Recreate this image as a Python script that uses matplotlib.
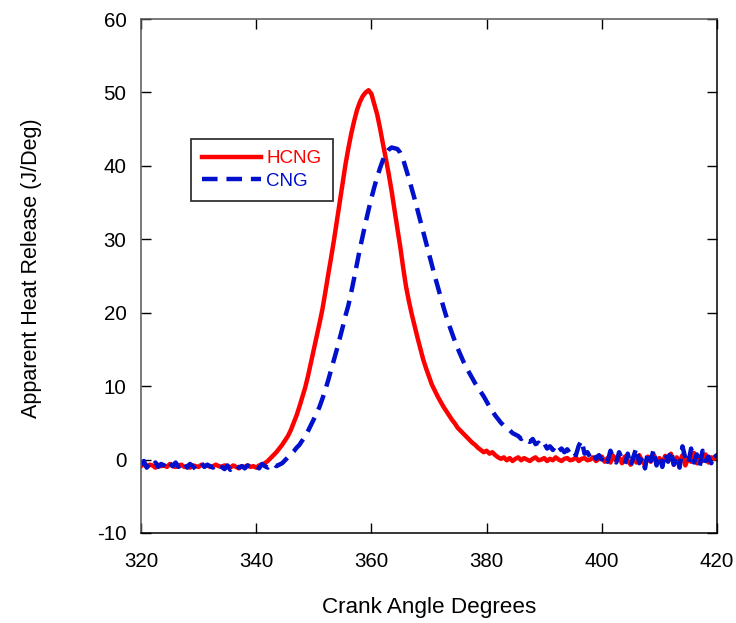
import numpy as np
import matplotlib
matplotlib.use('Agg')
import matplotlib.pyplot as plt

plt.rcParams['font.family'] = ['Liberation Sans', 'DejaVu Sans']
plt.rcParams['axes.unicode_minus'] = False

# crank angle grid (deg), 0.5 deg steps
angle = np.arange(320, 420.5, 0.5)

hcng = [
    -0.9, -0.6, -1.0, -0.7, -0.8, -1.1, -0.7, -0.9, -0.8, -1.0,   # 320-324.5
    -0.6, -0.9, -1.0, -0.8, -0.7, -1.0, -0.9, -1.1, -0.8, -0.9,   # 325-329.5
    -1.0, -0.7, -0.9, -0.8, -1.0, -0.9, -0.7, -0.9, -1.0, -0.8,   # 330-334.5
    -0.9, -1.1, -0.8, -1.0, -1.2, -0.9, -1.0, -0.8, -1.0, -0.9,   # 335-339.5
    -1.1, -0.8, -0.7, -0.5, -0.2, 0.2, 0.6, 1.0, 1.5, 2.0,        # 340-344.5
    2.6, 3.2, 4.0, 5.0, 6.0, 7.2, 8.5, 9.8, 11.4, 13.2,           # 345-349.5
    15.0, 16.8, 18.6, 20.5, 22.8, 25.2, 27.5, 29.9, 32.5, 35.0,   # 350-354.5
    37.7, 40.2, 42.4, 44.4, 46.1, 47.6, 48.7, 49.5, 50.0, 50.3,   # 355-359.5
    49.8, 48.4, 47.0, 45.1, 43.0, 41.0, 38.9, 36.6, 34.0, 31.5,   # 360-364.5
    29.0, 26.2, 23.6, 21.6, 19.8, 18.2, 16.6, 15.1, 13.6, 12.4,   # 365-369.5
    11.3, 10.2, 9.4, 8.6, 7.9, 7.2, 6.6, 6.0, 5.4, 4.9,           # 370-374.5
    4.3, 3.9, 3.5, 3.1, 2.7, 2.3, 2.0, 1.6, 1.3, 1.0,             # 375-379.5
    1.2, 0.8, 1.0, 0.6, 0.3, 0.1, 0.3, -0.1, 0.2, -0.2,           # 380-384.5
    0.1, 0.3, -0.1, 0.2, 0.0, -0.2, 0.1, 0.3, -0.1, 0.0,          # 385-389.5
    0.2, -0.2, 0.1, -0.1, 0.3, 0.0, -0.2, 0.1, 0.2, -0.1,         # 390-394.5
    0.0, 0.3, -0.2, 0.1, 0.2, -0.1, 0.0, 0.3, -0.2, 0.1,          # 395-399.5
    0.4, -0.3, 0.2, -0.4, 0.5, -0.2, 0.3, -0.5, 0.4, -0.1,        # 400-404.5
    -0.7, 0.3, -0.4, 0.6, -0.2, -0.8, 0.4, -0.3, 0.7, -0.5,       # 405-409.5
    0.2, -0.6, 0.5, -0.2, 0.8, -0.7, 0.3, -0.4, 0.6, -0.8,        # 410-414.5
    0.2, -0.3, 0.9, -0.5, 0.4, -0.2, 0.7, -0.4, 0.3, 0.1,         # 415-419.5
    0.4,                                                          # 420
]

cng = [
    -0.7, -0.2, -1.1, -0.5, -0.9, -0.4, -1.0, -0.6, -0.8, -1.2,   # 320-324.5
    -0.5, -0.9, -0.4, -1.0, -0.7, -0.3, -1.1, -0.6, -0.9, -1.3,   # 325-329.5
    -0.8, -0.5, -1.0, -0.7, -0.9, -1.1, -0.6, -0.9, -1.0, -1.3,   # 330-334.5
    -0.8, -1.4, -1.0, -0.7, -1.1, -0.9, -1.2, -0.8, -1.0, -0.7,   # 335-339.5
    -0.9, -1.2, -0.6, -0.9, -1.1, -0.8, -0.5, -0.9, -0.7, -0.5,   # 340-344.5
    -0.1, 0.3, 0.7, 1.1, 1.6, 2.0, 2.6, 3.2, 3.9, 4.7,            # 345-349.5
    5.5, 6.3, 7.2, 8.3, 9.5, 10.8, 12.2, 13.6, 15.0, 16.5,        # 350-354.5
    18.0, 19.6, 21.0, 22.8, 24.7, 26.7, 28.7, 30.5, 32.3, 34.0,   # 355-359.5
    35.6, 37.1, 38.5, 39.7, 40.8, 41.6, 42.2, 42.5, 42.4, 42.3,   # 360-364.5
    41.8, 40.9, 39.6, 38.3, 36.9, 35.5, 34.0, 32.5, 31.0, 29.5,   # 365-369.5
    28.0, 26.5, 25.0, 23.6, 22.2, 20.8, 19.5, 18.3, 17.2, 16.1,   # 370-374.5
    15.1, 14.2, 13.3, 12.5, 11.8, 11.1, 10.4, 9.8, 9.2, 8.6,      # 375-379.5
    7.9, 7.2, 6.6, 6.0, 5.5, 5.0, 4.6, 4.3, 4.0, 3.6,             # 380-384.5
    3.4, 3.2, 2.8, 3.1, 2.6, 2.4, 2.8, 2.1, 2.3, 1.8,             # 385-389.5
    2.2, 1.5, 1.8, 1.3, 1.9, 1.2, 1.5, 1.0, 1.4, 0.8,             # 390-394.5
    1.2, 0.6, 1.9, 2.6, 0.8, 1.0, 0.3, 0.9, 0.1, 0.6,             # 395-399.5
    0.0, 0.5, -0.3, 1.2, 0.2, -0.4, 1.0, 0.1, -0.6, 0.8,          # 400-404.5
    -0.9, 0.4, 1.6, -0.5, 0.3, -1.2, 1.1, -0.2, 1.4, -0.8,        # 405-409.5
    0.6, -1.0, 0.9, -0.3, 1.3, -0.7, 0.5, -1.1, 1.8, 0.2,         # 410-414.5
    -0.6, 1.5, -0.4, 0.7, -0.9, 1.2, -0.2, 0.4, -0.5, 0.8,        # 415-419.5
    0.3,                                                          # 420
]

series_names = ['HCNG', 'CNG']
series_colors = ['#ff0000', '#0010cc']

fig = plt.figure(figsize=(7.36, 6.23), dpi=100)
ax = fig.add_axes([0.1916, 0.1445, 0.7826, 0.8250])

ax.plot(angle, hcng, color=series_colors[0], lw=3.2, label=series_names[0])
ax.plot(angle, cng, color=series_colors[1], lw=3.2, label=series_names[1],
        linestyle=(0, (3.5, 2.0)))

ax.set_xlim(320, 420)
ax.set_ylim(-10, 60)
ax.set_xticks(np.arange(320, 421, 20))
ax.set_yticks(np.arange(-10, 61, 10))

ax.tick_params(direction='in', length=7.5, width=1.0, top=True, right=True,
               labelsize=14.8, colors='black')
ax.tick_params(axis='x', pad=14)
ax.tick_params(axis='y', pad=10.5)
for side, s in ax.spines.items():
    s.set_linewidth(1.1)
ax.spines['left'].set_color('#555555')
ax.spines['top'].set_color('#555555')

ax.set_xlabel('Crank Angle Degrees', fontsize=16.2)
ax.set_ylabel('Apparent Heat Release (J/Deg)', fontsize=15.5)
ax.xaxis.set_label_coords(0.5, -0.125)
ax.yaxis.set_label_coords(-0.172, 0.515)

leg = ax.legend(loc='upper left', bbox_to_anchor=(0.087, 0.767), borderaxespad=0,
                fontsize=13.5, frameon=True, fancybox=False, handlelength=3.1,
                handletextpad=0.3, labelspacing=0.28, borderpad=0.6)
leg.get_frame().set_edgecolor('black')
leg.get_frame().set_linewidth(1.3)
for txt, c in zip(leg.get_texts(), series_colors):
    txt.set_color(c)

fig.savefig('out.png', dpi=100)
